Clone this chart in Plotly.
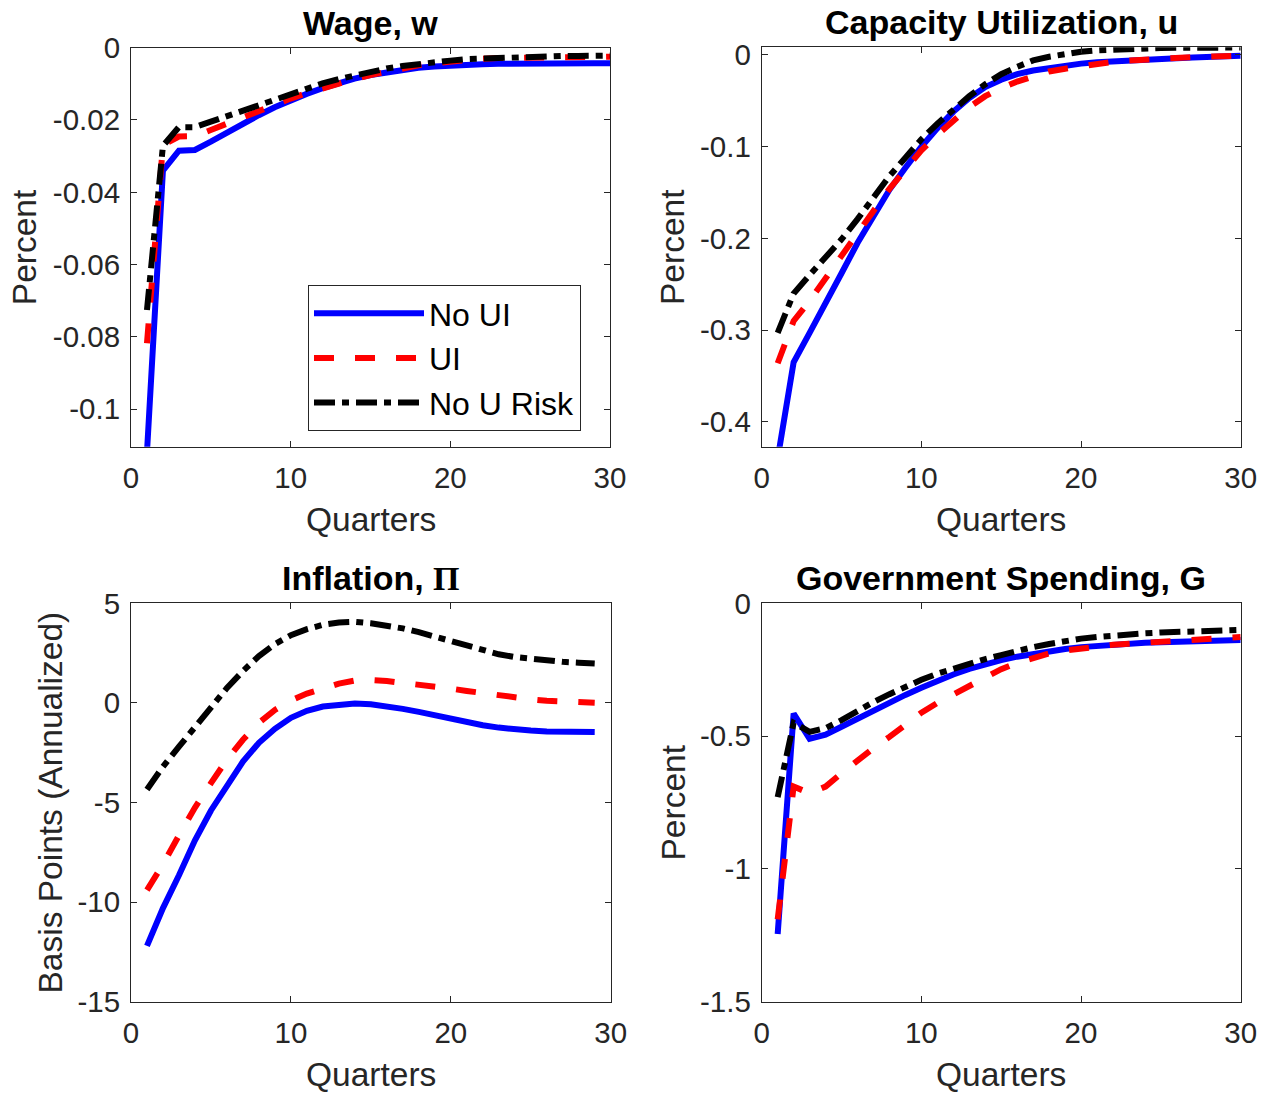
import plotly.graph_objects as go

# ---------------- data ----------------
quarters = list(range(1, 31))
quarters_infl = list(range(1, 30))

series_names = ["No UI", "UI", "No U Risk"]

wage_no_ui = [-0.112, -0.034, -0.0285, -0.0283, -0.026, -0.0235, -0.021, -0.0187, -0.0165, -0.0145,
              -0.0128, -0.0112, -0.0098, -0.0086, -0.0076, -0.0068, -0.0061, -0.0056, -0.0052, -0.0049,
              -0.0047, -0.0046, -0.0045, -0.0044, -0.0044, -0.0043, -0.0043, -0.0043, -0.0043, -0.0043]
wage_ui = [-0.0818, -0.027, -0.0246, -0.0245, -0.0228, -0.021, -0.0192, -0.0174, -0.0157, -0.0141,
           -0.0126, -0.0112, -0.0099, -0.0087, -0.0076, -0.0066, -0.0057, -0.0049, -0.0043, -0.0038,
           -0.0034, -0.0031, -0.0029, -0.0028, -0.0027, -0.0026, -0.0026, -0.0025, -0.0025, -0.0025]
wage_no_risk = [-0.0726, -0.0272, -0.022, -0.022, -0.0205, -0.019, -0.0173, -0.0157, -0.0141, -0.0126,
                -0.0112, -0.0099, -0.0087, -0.0076, -0.0067, -0.0058, -0.0051, -0.0045, -0.004, -0.0036,
                -0.0032, -0.003, -0.0028, -0.0026, -0.0025, -0.0024, -0.0023, -0.0023, -0.0022, -0.0022]

cu_no_ui = [-0.44, -0.335, -0.303, -0.272, -0.238, -0.205, -0.176, -0.147, -0.123, -0.1,
            -0.08, -0.062, -0.047, -0.035, -0.027, -0.021, -0.017, -0.014, -0.012, -0.0095,
            -0.008, -0.0068, -0.0058, -0.005, -0.0042, -0.0035, -0.0028, -0.002, -0.0013, -0.0008]
cu_ui = [-0.336, -0.29, -0.268, -0.243, -0.219, -0.195, -0.170, -0.146, -0.124, -0.104,
         -0.087, -0.071, -0.057, -0.045, -0.036, -0.029, -0.023, -0.018, -0.015, -0.012,
         -0.0095, -0.0075, -0.006, -0.0048, -0.0038, -0.003, -0.0025, -0.0018, -0.0012, -0.0008]
cu_no_risk = [-0.303, -0.26, -0.24, -0.221, -0.201, -0.179, -0.155, -0.132, -0.112, -0.092,
              -0.075, -0.059, -0.045, -0.032, -0.021, -0.013, -0.006, -0.002, 0.001, 0.0035,
              0.005, 0.006, 0.0068, 0.0073, 0.0076, 0.0078, 0.008, 0.008, 0.008, 0.008]

infl_no_ui = [-12.2, -10.3, -8.65, -6.9, -5.4, -4.14, -2.95, -2.0, -1.3, -0.75,
              -0.4, -0.18, -0.08, -0.03, -0.07, -0.15, -0.3, -0.45, -0.62, -0.8,
              -0.98, -1.12, -1.24, -1.33, -1.39, -1.43, -1.45, -1.46, -1.46]
infl_ui = [-9.4, -8.1, -6.65, -5.25, -4.03, -2.85, -1.85, -1.0, -0.35, 0.12,
           0.47, 0.75, 0.97, 1.12, 1.15, 1.1, 1.02, 0.93, 0.83, 0.72,
           0.6, 0.48, 0.36, 0.26, 0.18, 0.11, 0.06, 0.03, 0.01]
infl_no_risk = [-4.35, -3.2, -2.2, -1.2, -0.2, 0.75, 1.6, 2.35, 2.95, 3.4,
                3.7, 3.92, 4.04, 4.07, 4.0, 3.88, 3.74, 3.55, 3.33, 3.1,
                2.85, 2.62, 2.44, 2.3, 2.2, 2.12, 2.06, 2.02, 1.98]

gov_no_ui = [-1.245, -0.415, -0.51, -0.495, -0.465, -0.434, -0.405, -0.375, -0.345, -0.318,
             -0.292, -0.268, -0.247, -0.229, -0.214, -0.201, -0.19, -0.18, -0.172, -0.165,
             -0.16, -0.155, -0.152, -0.149, -0.147, -0.145, -0.143, -0.141, -0.14, -0.138]
gov_ui = [-1.19, -0.69, -0.715, -0.69, -0.64, -0.59, -0.545, -0.503, -0.455, -0.412,
          -0.375, -0.342, -0.31, -0.278, -0.248, -0.224, -0.204, -0.189, -0.178, -0.169,
          -0.162, -0.156, -0.152, -0.148, -0.145, -0.141, -0.137, -0.133, -0.13, -0.127]
gov_no_risk = [-0.73, -0.45, -0.484, -0.47, -0.44, -0.405, -0.372, -0.342, -0.313, -0.288,
               -0.265, -0.245, -0.227, -0.21, -0.195, -0.178, -0.165, -0.153, -0.142, -0.133,
               -0.127, -0.121, -0.117, -0.113, -0.11, -0.107, -0.105, -0.103, -0.101, -0.1]

titles = ["Wage, w", "Capacity Utilization, u",
          "Inflation, <span style=\"font-family:'Liberation Serif', serif\">\u03a0</span>",
          "Government Spending, G"]
y_titles = ["Percent", "Percent", "Basis Points (Annualized)", "Percent"]
x_title = "Quarters"

x_ticks = [0, 10, 20, 30]
wage_ticks = [0, -0.02, -0.04, -0.06, -0.08, -0.1]
wage_tick_text = ["0", "-0.02", "-0.04", "-0.06", "-0.08", "-0.1"]
cu_ticks = [0, -0.1, -0.2, -0.3, -0.4]
cu_tick_text = ["0", "-0.1", "-0.2", "-0.3", "-0.4"]
infl_ticks = [5, 0, -5, -10, -15]
infl_tick_text = ["5", "0", "-5", "-10", "-15"]
gov_ticks = [0, -0.5, -1, -1.5]
gov_tick_text = ["0", "-0.5", "-1", "-1.5"]

# ---------------- styling ----------------
W, H = 1268, 1093
FONT = "'Liberation Sans', Arial, Helvetica, sans-serif"
AX = "#262626"
colors = ["#0000FF", "#FF0000", "#000000"]
dashes = ["solid", "20px,21px", "21px,7px,7px,7px"]
LW = 6

# pixel boxes of the four axes: (left, right, top, bottom)
boxes = [(131, 610, 47.6, 446.7), (761.7, 1240.7, 47.3, 446.7),
         (131, 610.7, 603.3, 1001.7), (761.7, 1240.7, 603.3, 1001.7)]
yranges = [[-0.1104, 0], [-0.427, 0.0083], [-15, 5], [-1.5, 0]]
yticks = [(wage_ticks, wage_tick_text), (cu_ticks, cu_tick_text),
          (infl_ticks, infl_tick_text), (gov_ticks, gov_tick_text)]
panels = [
    (quarters, [wage_no_ui, wage_ui, wage_no_risk]),
    (quarters, [cu_no_ui, cu_ui, cu_no_risk]),
    (quarters_infl, [infl_no_ui, infl_ui, infl_no_risk]),
    (quarters, [gov_no_ui, gov_ui, gov_no_risk]),
]


def px(xw):
    return xw / W


def py(yw):
    return 1 - yw / H


fig = go.Figure()
layout = dict(width=W, height=H, margin=dict(l=0, r=0, t=0, b=0, pad=0, autoexpand=False),
              paper_bgcolor="white", plot_bgcolor="white",
              font=dict(family=FONT, color=AX), showlegend=True)
annotations = []

for i, ((l, r, t, b), yr, (tv, tt), (xs, ys)) in enumerate(zip(boxes, yranges, yticks, panels)):
    n = "" if i == 0 else str(i + 1)
    axis_common = dict(showline=True, linecolor=AX, linewidth=1, mirror="ticks",
                       ticks="inside", ticklen=6, tickcolor=AX, tickwidth=1,
                       showgrid=False, zeroline=False, automargin=False,
                       tickfont=dict(family=FONT, size=29.5, color=AX))
    layout["xaxis" + n] = dict(domain=[px(l), px(r)], range=[0, 30], tickvals=x_ticks,
                               anchor="y" + n, ticklabelstandoff=5, **axis_common)
    layout["yaxis" + n] = dict(domain=[py(b), py(t)], range=yr, tickvals=tv, ticktext=tt,
                               anchor="x" + n, ticklabelstandoff=4, **axis_common)
    for k in range(3):
        fig.add_trace(go.Scatter(x=xs, y=ys[k], mode="lines", name=series_names[k],
                                 line=dict(color=colors[k], width=LW, dash=dashes[k]),
                                 showlegend=(i == 0), xaxis="x" + n, yaxis="y" + n))
    cx = px((l + r) / 2)
    annotations.append(dict(text="<b>" + titles[i] + "</b>", x=cx, y=py(t - 25),
                            xref="paper", yref="paper", xanchor="center", yanchor="middle",
                            showarrow=False, font=dict(family=FONT, size=34, color="black")))
    annotations.append(dict(text=x_title, x=cx, y=py(b + 73),
                            xref="paper", yref="paper", xanchor="center", yanchor="middle",
                            showarrow=False, font=dict(family=FONT, size=33.5, color=AX)))
    ylx = [24, 673, 50, 673][i]
    annotations.append(dict(text=y_titles[i], x=px(ylx), y=py((t + b) / 2),
                            xref="paper", yref="paper", xanchor="center", yanchor="middle",
                            textangle=-90, showarrow=False,
                            font=dict(family=FONT, size=33.5, color=AX)))

layout["annotations"] = annotations
layout["legend"] = dict(x=px(308), y=py(285), xanchor="left", yanchor="top",
                        bgcolor="white", bordercolor=AX, borderwidth=1,
                        font=dict(family=FONT, size=32, color="black"),
                        itemwidth=110, tracegroupgap=0)
fig.update_layout(**layout)
fig.write_html(
    "out.html",
    config={"displayModeBar": False},
    post_script=("document.body.style.margin='0px';"
                 "document.body.style.overflow='hidden';"
                 "document.documentElement.style.overflow='hidden';"),
)
